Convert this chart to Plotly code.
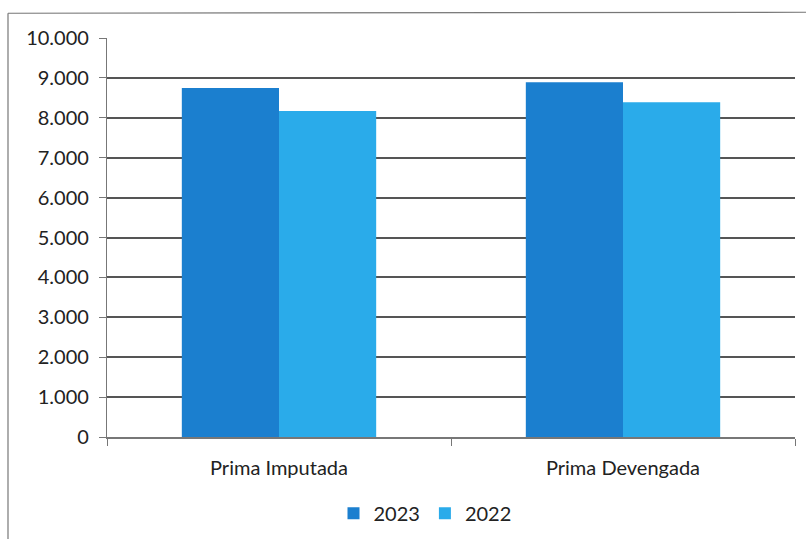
import plotly.graph_objects as go

categories = ["Prima Imputada", "Prima Devengada"]
series_2023 = [8750, 8890]
series_2022 = [8170, 8390]
tick_vals = [0, 1000, 2000, 3000, 4000, 5000, 6000, 7000, 8000, 9000, 10000]
tick_text = ["0", "1.000", "2.000", "3.000", "4.000", "5.000", "6.000", "7.000", "8.000", "9.000", "10.000"]

FONT = "Lato, Open Sans, sans-serif"

fig = go.Figure()
fig.add_trace(go.Bar(name="2023", x=categories, y=series_2023, marker=dict(color="#1B7FCF", line=dict(width=0))))
fig.add_trace(go.Bar(name="2022", x=categories, y=series_2022, marker=dict(color="#2AABEA", line=dict(width=0))))

W, H = 806, 544
ml, mr, mt, mb = 107, 11, 38, 103
pw, ph = W - ml - mr, H - mt - mb

def px_x(px):
    return (px - ml) / pw

def px_y(py):
    return (H - mb - py) / ph

fig.update_layout(
    width=W, height=H,
    margin=dict(l=ml, r=mr, t=mt, b=mb),
    paper_bgcolor="white", plot_bgcolor="white",
    barmode="group", bargap=0.435, bargroupgap=0,
    font=dict(family=FONT, size=20, color="#222"),
    legend=dict(orientation="h", x=px_x(425), xanchor="center", y=px_y(518), yanchor="middle",
                font=dict(size=20, color="#222"), itemwidth=30, traceorder="normal"),
    showlegend=True,
    shapes=[
        dict(type="line", xref="paper", yref="paper", x0=px_x(8), x1=px_x(806), y0=px_y(13), y1=px_y(12),
             line=dict(color="#777", width=1.2)),
        dict(type="line", xref="paper", yref="paper", x0=px_x(8), x1=px_x(8), y0=px_y(13), y1=px_y(544),
             line=dict(color="#777", width=1.2)),
    ],
)
fig.update_yaxes(range=[0, 10000], tickvals=tick_vals, ticktext=tick_text,
                 showgrid=True, gridcolor="#555", gridwidth=1.5,
                 showline=True, linecolor="#777", linewidth=1.2,
                 ticks="outside", ticklen=7, tickcolor="#777", tickwidth=1.2,
                 ticklabelstandoff=6,
                 zeroline=False, tickfont=dict(size=20, color="#222"))
fig.update_xaxes(showline=True, linecolor="#777", linewidth=1.5,
                 ticks="outside", ticklen=7, tickcolor="#777", tickwidth=1.2,
                 tickson="boundaries", showgrid=False, ticklabelstandoff=12,
                 tickfont=dict(size=20, color="#222"))

fig.write_html("out.html")
